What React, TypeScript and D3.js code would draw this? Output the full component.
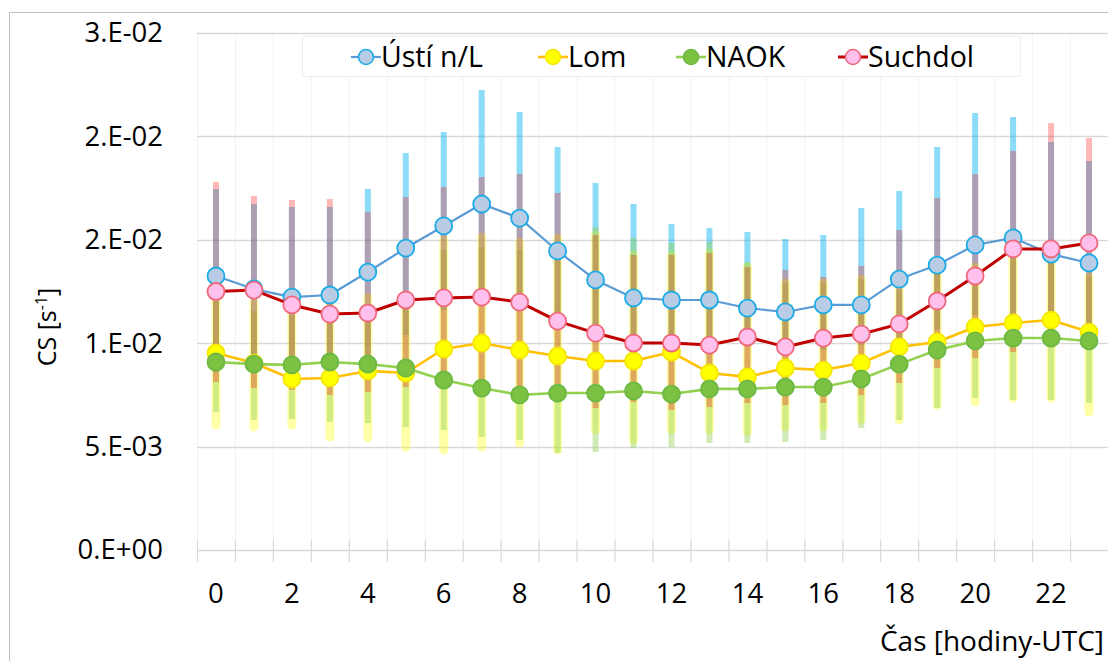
import { useEffect, useRef } from 'react'
import * as d3 from 'd3'

// hours of day (UTC)
const hours = [0, 1, 2, 3, 4, 5, 6, 7, 8, 9, 10, 11, 12, 13, 14, 15, 16, 17, 18, 19, 20, 21, 22, 23]
const xTickHours = [0, 2, 4, 6, 8, 10, 12, 14, 16, 18, 20, 22]

// y ticks in units of 1e-3 s^-1, labels as Excel printed them
const yTicks = [0, 5, 10, 15, 20, 25]
const yTickLabels = ['0.E+00', '5.E-03', '1.E-02', '2.E-02', '2.E-02', '3.E-02']

const seriesNames = ['Ústí n/L', 'Lom', 'NAOK', 'Suchdol']

// values below are ×1e-3 s^-1
const ustiMean = [13.25, 12.62, 12.23, 12.33, 13.44, 14.6, 15.67, 16.73, 16.05, 14.46, 13.06, 12.19, 12.09, 12.09, 11.7, 11.51, 11.85, 11.85, 13.1, 13.78, 14.75, 15.09, 14.31, 13.88]
const ustiHigh = [17.46, 16.73, 16.59, 16.59, 17.46, 19.2, 20.21, 22.24, 21.18, 19.49, 17.75, 16.73, 15.76, 15.57, 15.38, 15.04, 15.23, 16.54, 17.36, 19.49, 21.13, 20.94, 19.73, 18.81]
const ustiLow = [8.61, 9.19, 8.46, 7.98, 8.61, 10.4, 11.61, 11.85, 12.09, 11.12, 10.4, 10.15, 9.91, 9.91, 9.91, 9.67, 9.67, 9.91, 10.15, 10.64, 11.36, 11.36, 11.12, 10.64]

const lomMean = [9.53, 9.04, 8.27, 8.32, 8.66, 8.56, 9.72, 10.01, 9.67, 9.38, 9.14, 9.14, 9.57, 8.56, 8.37, 8.8, 8.7, 9.04, 9.82, 10.06, 10.78, 10.98, 11.12, 10.54]
const lomHigh = [12.43, 11.94, 11.75, 12.09, 12.23, 12.33, 14.99, 15.14, 14.89, 15.09, 15.23, 14.26, 14.26, 14.36, 13.68, 12.91, 12.91, 13.1, 12.72, 13.39, 13.68, 14.36, 14.17, 13.2]
const lomLow = [6.04, 5.95, 6.04, 5.46, 5.42, 4.98, 4.84, 4.98, 5.17, 4.84, 5.8, 5.32, 5.8, 5.8, 5.71, 5.95, 5.95, 6.29, 6.29, 7.01, 7.16, 7.35, 7.35, 6.67]

const naokMean = [9.09, 8.99, 8.95, 9.09, 8.99, 8.8, 8.22, 7.83, 7.5, 7.59, 7.59, 7.69, 7.54, 7.79, 7.79, 7.88, 7.88, 8.27, 8.99, 9.67, 10.11, 10.25, 10.25, 10.11]
const naokHigh = [12.04, 11.56, 11.36, 11.7, 11.85, 11.94, 14.51, 14.65, 14.51, 14.6, 15.62, 15.09, 14.85, 14.89, 13.93, 12.91, 12.91, 13.1, 12.57, 13.39, 13.68, 14.36, 14.17, 13.2]
const naokLow = [6.67, 6.29, 6.33, 6.19, 6.14, 5.95, 5.8, 5.46, 5.32, 4.69, 4.74, 4.93, 4.98, 5.17, 5.17, 5.22, 5.32, 5.9, 6.29, 6.87, 7.35, 7.25, 7.25, 7.11]

const suchdolMean = [12.5, 12.57, 11.85, 11.41, 11.46, 12.09, 12.19, 12.23, 11.99, 11.07, 10.49, 10.01, 10.01, 9.91, 10.3, 9.82, 10.25, 10.44, 10.93, 12.04, 13.25, 14.56, 14.56, 14.85]
const suchdolHigh = [17.79, 17.12, 16.92, 16.97, 16.34, 17.07, 17.55, 18.04, 18.18, 17.26, 15.23, 14.26, 14.26, 14.36, 13.68, 13.54, 13.2, 13.73, 15.47, 17.02, 18.18, 19.29, 20.65, 19.92]
const suchdolLow = [8.12, 7.83, 7.74, 7.5, 7.64, 7.88, 8.22, 8.22, 7.74, 7.83, 6.87, 7.16, 6.77, 6.92, 7.11, 7.01, 7.11, 7.5, 8.08, 8.8, 9.28, 9.57, 9.91, 9.91]

const series = [
  { name: seriesNames[0], mean: ustiMean, lo: ustiLow, hi: ustiHigh,
    line: '#5b9bd5', lineW: 2.2, fill: '#b8cde5', stroke: '#1cabe6', bar: '#00b0f0', barOp: 0.45, barW: 6 },
  { name: seriesNames[1], mean: lomMean, lo: lomLow, hi: lomHigh,
    line: '#ffc000', lineW: 2.6, fill: '#ffff00', stroke: '#f5e800', bar: '#ffff00', barOp: 0.34, barW: 9 },
  { name: seriesNames[2], mean: naokMean, lo: naokLow, hi: naokHigh,
    line: '#92d050', lineW: 2.6, fill: '#7dc143', stroke: '#6cb844', bar: '#92d050', barOp: 0.42, barW: 6 },
  { name: seriesNames[3], mean: suchdolMean, lo: suchdolLow, hi: suchdolHigh,
    line: '#c00000', lineW: 3, fill: '#ffc0ee', stroke: '#f0687c', bar: '#ff0000', barOp: 0.28, barW: 6 },
]

export default function App() {
  const svgRef = useRef<SVGSVGElement>(null)

  useEffect(() => {
    if (!svgRef.current) return
    const W = 1108, H = 661
    const font = "'Open Sans', 'DejaVu Sans', sans-serif"

    const svg = d3.select(svgRef.current)
    svg.selectAll('*').remove()
    svg.attr('width', W).attr('height', H)

    svg.append('rect').attr('width', W).attr('height', H).attr('fill', '#fff')
    // chart area border (cropped at right/bottom)
    svg.append('rect')
      .attr('x', 9.5).attr('y', 12.5).attr('width', 1300).attr('height', 800)
      .attr('fill', 'none').attr('stroke', '#bfbfbf').attr('stroke-width', 1)

    const plotL = 197, plotR = 1108
    const x = d3.scaleBand<number>().domain(hours).range([plotL, plotR]).paddingInner(0).paddingOuter(0)
    const y = d3.scaleLinear().domain([0, 25]).range([550, 33])
    const bw = x.bandwidth()
    const cx = (h: number) => (x(h) as number) + bw / 2

    const g = svg.append('g')

    // vertical category gridlines
    const bounds = hours.map(h => x(h) as number).concat([plotR])
    g.selectAll('.vgrid').data(bounds).join('line')
      .attr('x1', d => d + 0.5).attr('x2', d => d + 0.5)
      .attr('y1', y(25)).attr('y2', y(0))
      .attr('stroke', '#f2f2f2').attr('stroke-width', 1)

    // horizontal gridlines
    g.selectAll('.hgrid').data(yTicks.slice(1)).join('line')
      .attr('x1', plotL).attr('x2', plotR)
      .attr('y1', d => Math.round(y(d)) + 0.5).attr('y2', d => Math.round(y(d)) + 0.5)
      .attr('stroke', '#d9d9d9').attr('stroke-width', 1.5)

    // x axis line + boundary ticks
    g.append('line')
      .attr('x1', plotL).attr('x2', plotR)
      .attr('y1', y(0) + 0.5).attr('y2', y(0) + 0.5)
      .attr('stroke', '#d9d9d9').attr('stroke-width', 1.5)
    g.selectAll('.xtick').data(bounds).join('line')
      .attr('x1', d => d + 0.5).attr('x2', d => d + 0.5)
      .attr('y1', y(0) - 10).attr('y2', y(0) + 12)
      .attr('stroke', '#d9d9d9').attr('stroke-width', 1.2)

    // y tick labels
    g.append('g')
      .attr('transform', `translate(${plotL},0)`)
      .call(d3.axisLeft(y).tickValues(yTicks).tickSize(0).tickPadding(34)
        .tickFormat((_d, i) => yTickLabels[i]))
      .call(a => {
        a.select('.domain').remove()
        a.selectAll('text').attr('font-family', font).attr('font-size', 27.5).attr('fill', '#000')
      })

    // x tick labels
    g.append('g')
      .attr('transform', `translate(0,${y(0)})`)
      .call(d3.axisBottom(x).tickValues(xTickHours).tickSize(0).tickPadding(33)
        .tickFormat(d => String(d)))
      .call(a => {
        a.select('.domain').remove()
        a.selectAll('text').attr('font-family', font).attr('font-size', 27.5).attr('fill', '#000')
      })

    // error bars (range), semi-transparent
    series.forEach(s => {
      g.append('g').selectAll('line').data(hours).join('line')
        .attr('x1', h => cx(h)).attr('x2', h => cx(h))
        .attr('y1', h => y(s.lo[h])).attr('y2', h => y(s.hi[h]))
        .attr('stroke', s.bar).attr('stroke-opacity', s.barOp)
        .attr('stroke-width', s.barW)
        .attr('stroke-linecap', s.barW > 6 ? 'round' : 'butt')
    })

    // lines + markers
    series.forEach(s => {
      const line = d3.line<number>().x(h => cx(h)).y(h => y(s.mean[h]))
      g.append('path').datum(hours).attr('d', line)
        .attr('fill', 'none').attr('stroke', s.line).attr('stroke-width', s.lineW)
        .attr('stroke-linejoin', 'round')
      g.append('g').selectAll('circle').data(hours).join('circle')
        .attr('cx', h => cx(h)).attr('cy', h => y(s.mean[h])).attr('r', 8.5)
        .attr('fill', s.fill).attr('stroke', s.stroke).attr('stroke-width', 1.8)
    })

    // legend
    const lg = svg.append('g')
    lg.append('rect').attr('x', 302.5).attr('y', 36.5).attr('width', 718).attr('height', 40)
      .attr('fill', '#fff').attr('stroke', '#ededed')
    const legendX = [366, 553, 691, 853]
    series.forEach((s, i) => {
      const lx = legendX[i], ly = 57
      lg.append('line').attr('x1', lx - 15).attr('x2', lx + 15).attr('y1', ly).attr('y2', ly)
        .attr('stroke', s.line).attr('stroke-width', s.lineW)
      lg.append('circle').attr('cx', lx).attr('cy', ly).attr('r', 7.5)
        .attr('fill', s.fill).attr('stroke', s.stroke).attr('stroke-width', 1.6)
      lg.append('text').attr('x', lx + 15).attr('y', ly + 10)
        .attr('font-family', font).attr('font-size', 28.5).attr('fill', '#000')
        .text(s.name)
    })

    // axis titles
    const yt = svg.append('text')
      .attr('transform', 'translate(56,327) rotate(-90)')
      .attr('text-anchor', 'middle')
      .attr('font-family', font).attr('font-size', 25).attr('fill', '#000')
    yt.append('tspan').text('CS [s')
    yt.append('tspan').attr('font-size', 16).attr('dy', -9).text('-1')
    yt.append('tspan').attr('dy', 9).text(']')

    svg.append('text').attr('x', 1104).attr('y', 651)
      .attr('text-anchor', 'end')
      .attr('font-family', font).attr('font-size', 28).attr('fill', '#000')
      .text('Čas [hodiny-UTC]')
  }, [])

  return (
    <svg ref={svgRef} style={{ position: 'absolute', left: 0, top: 0, display: 'block' }} />
  )
}
